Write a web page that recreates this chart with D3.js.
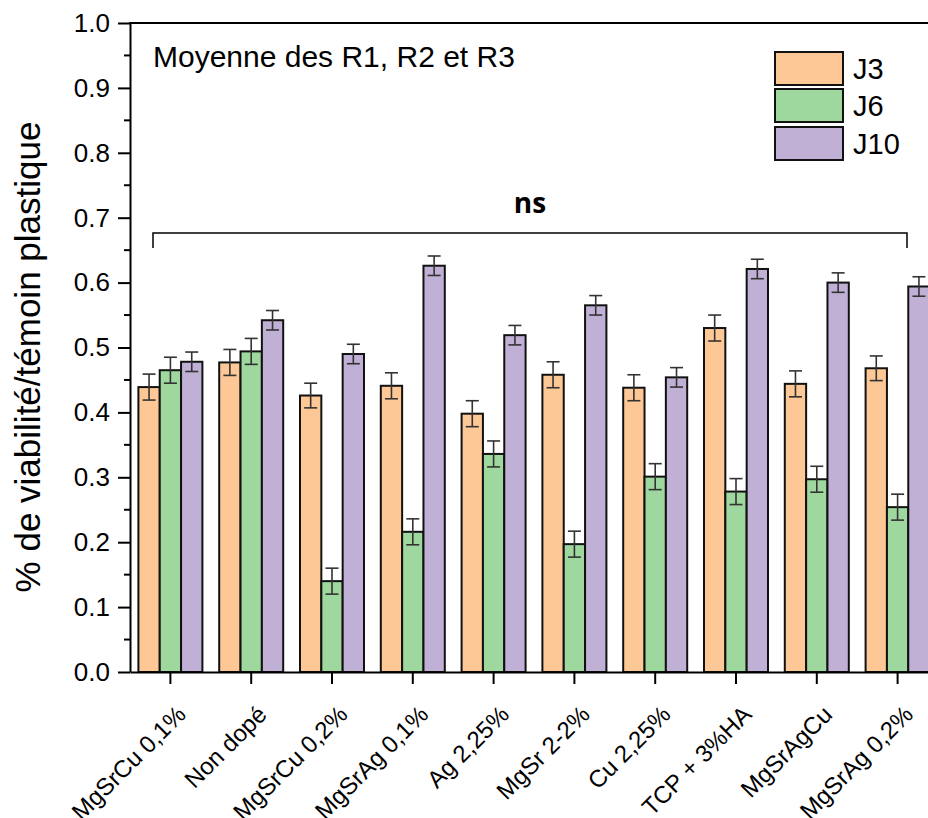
<!DOCTYPE html>
<html>
<head>
<meta charset="utf-8">
<script src="https://cdn.jsdelivr.net/npm/d3@7"></script>
<style>
  html, body { margin: 0; padding: 0; background: #fff; }
  svg { display: block; font-family: "Liberation Sans", Arial, sans-serif; }
</style>
</head>
<body>
<svg id="chart" width="928" height="818"></svg>
<script>
const categories = ["MgSrCu 0,1%", "Non dopé", "MgSrCu 0,2%", "MgSrAg 0,1%", "Ag 2,25%", "MgSr 2-2%", "Cu 2,25%", "TCP + 3%HA", "MgSrAgCu", "MgSrAg 0,2%"];
const seriesNames = ["J3", "J6", "J10"];
const J3 = [0.439, 0.477, 0.426, 0.441, 0.398, 0.458, 0.438, 0.530, 0.444, 0.468];
const J6 = [0.465, 0.494, 0.140, 0.216, 0.336, 0.197, 0.301, 0.278, 0.297, 0.254];
const J10 = [0.478, 0.542, 0.490, 0.626, 0.519, 0.565, 0.454, 0.621, 0.600, 0.594];
const J3err = [0.020, 0.020, 0.019, 0.020, 0.020, 0.020, 0.020, 0.020, 0.020, 0.019];
const J6err = [0.020, 0.020, 0.020, 0.020, 0.020, 0.020, 0.020, 0.020, 0.020, 0.020];
const J10err = [0.015, 0.015, 0.015, 0.015, 0.015, 0.015, 0.015, 0.015, 0.015, 0.015];
const yTicks = [0.0, 0.1, 0.2, 0.3, 0.4, 0.5, 0.6, 0.7, 0.8, 0.9, 1.0];
const colors = ["#FDC896", "#9FD89F", "#C1B0D6"];
const yTitle = "% de viabilité/témoin plastique";
const note = "Moyenne des R1, R2 et R3";
const sigLabel = "ns";

(function () {
const FONT = "Liberation Sans, Arial, sans-serif";
const values = [J3, J6, J10];
const errs = [J3err, J6err, J10err];

const svg = d3.select("#chart");
const pLeft = 130, pTop = 23, pBottom = 672, step = 80.8;
const pRight = pLeft + step * categories.length;

const x = d3.scaleBand().domain(categories).range([pLeft, pRight]).paddingInner(0).paddingOuter(0);
const xs = d3.scaleBand().domain(seriesNames).range([0, 64]).padding(0);
const y = d3.scaleLinear().domain([0, 1]).range([pBottom, pTop]);

// bars
seriesNames.forEach((s, si) => {
  const g = svg.append("g");
  categories.forEach((c, ci) => {
    const bx = x(c) + x.bandwidth() / 2 - 32 + xs(s);
    g.append("rect")
      .attr("x", bx).attr("y", y(values[si][ci]))
      .attr("width", xs.bandwidth()).attr("height", y(0) - y(values[si][ci]))
      .attr("fill", colors[si]).attr("stroke", "#111").attr("stroke-width", 2);
  });
});
// error bars
seriesNames.forEach((s, si) => {
  const g = svg.append("g").attr("stroke", "#333").attr("stroke-width", 1.6);
  categories.forEach((c, ci) => {
    const cx = x(c) + x.bandwidth() / 2 - 32 + xs(s) + xs.bandwidth() / 2;
    const v = values[si][ci], e = errs[si][ci];
    g.append("line").attr("x1", cx).attr("x2", cx).attr("y1", y(v + e)).attr("y2", y(v - e));
    g.append("line").attr("x1", cx - 6.5).attr("x2", cx + 6.5).attr("y1", y(v + e)).attr("y2", y(v + e));
    g.append("line").attr("x1", cx - 6.5).attr("x2", cx + 6.5).attr("y1", y(v - e)).attr("y2", y(v - e));
  });
});

// y axis
const yAxis = d3.axisLeft(y).tickValues(yTicks).tickFormat(d3.format(".1f")).tickSize(12).tickSizeOuter(0).tickPadding(8);
const ya = svg.append("g").attr("transform", `translate(${pLeft},0)`).call(yAxis);
ya.attr("font-family", FONT);
ya.select(".domain").attr("stroke", "#000").attr("stroke-width", 2);
ya.selectAll(".tick line").attr("stroke", "#000").attr("stroke-width", 2);
ya.selectAll(".tick text").attr("font-size", 26).attr("fill", "#000");
// minor ticks
const minor = d3.range(0.05, 1, 0.1);
svg.append("g").selectAll("line").data(minor).join("line")
  .attr("x1", pLeft - 6).attr("x2", pLeft).attr("y1", d => y(d)).attr("y2", d => y(d))
  .attr("stroke", "#000").attr("stroke-width", 2);

// top frame
svg.append("line").attr("x1", pLeft - 1).attr("x2", pRight).attr("y1", pTop).attr("y2", pTop)
  .attr("stroke", "#000").attr("stroke-width", 2);

// x axis
const xAxis = d3.axisBottom(x).tickSize(12).tickSizeOuter(0).tickFormat("");
const xa = svg.append("g").attr("transform", `translate(0,${pBottom})`).call(xAxis);
xa.attr("font-family", FONT);
xa.select(".domain").attr("stroke", "#000").attr("stroke-width", 2);
xa.selectAll(".tick line").attr("stroke", "#000").attr("stroke-width", 2);
xa.selectAll(".tick").append("text")
  .attr("transform", "translate(17,44) rotate(-45)")
  .attr("text-anchor", "end")
  .attr("fill", "#000")
  .attr("font-size", 24)
  .attr("font-family", FONT)
  .text(d => d);

// y title
svg.append("text")
  .attr("transform", `translate(40,357) rotate(-90)`)
  .attr("text-anchor", "middle")
  .attr("font-size", 35)
  .attr("fill", "#000")
  .text(yTitle);

// note
svg.append("text").attr("x", 153).attr("y", 67).attr("font-size", 30).attr("fill", "#000").text(note);

// legend
const lg = svg.append("g");
seriesNames.forEach((s, i) => {
  const ly = [52, 89, 127][i];
  lg.append("rect").attr("x", 775).attr("y", ly).attr("width", 68).attr("height", 33)
    .attr("fill", colors[i]).attr("stroke", "#111").attr("stroke-width", 2);
  lg.append("text").attr("x", 853).attr("y", ly + 27).attr("font-size", 29).attr("fill", "#000").text(s);
});

// significance bracket
const bx1 = 153, bx2 = 907, by = 233;
svg.append("path")
  .attr("d", `M${bx1},${by + 15}V${by}H${bx2}V${by + 15}`)
  .attr("fill", "none").attr("stroke", "#000").attr("stroke-width", 1.5);
svg.append("text").attr("x", (bx1 + bx2) / 2).attr("y", 213).attr("text-anchor", "middle")
  .attr("font-size", 28).attr("font-weight", "bold").attr("fill", "#000")
  .attr("font-family", "Open Sans, Liberation Sans, sans-serif")
  .text(sigLabel);
})();
</script>
</body>
</html>
